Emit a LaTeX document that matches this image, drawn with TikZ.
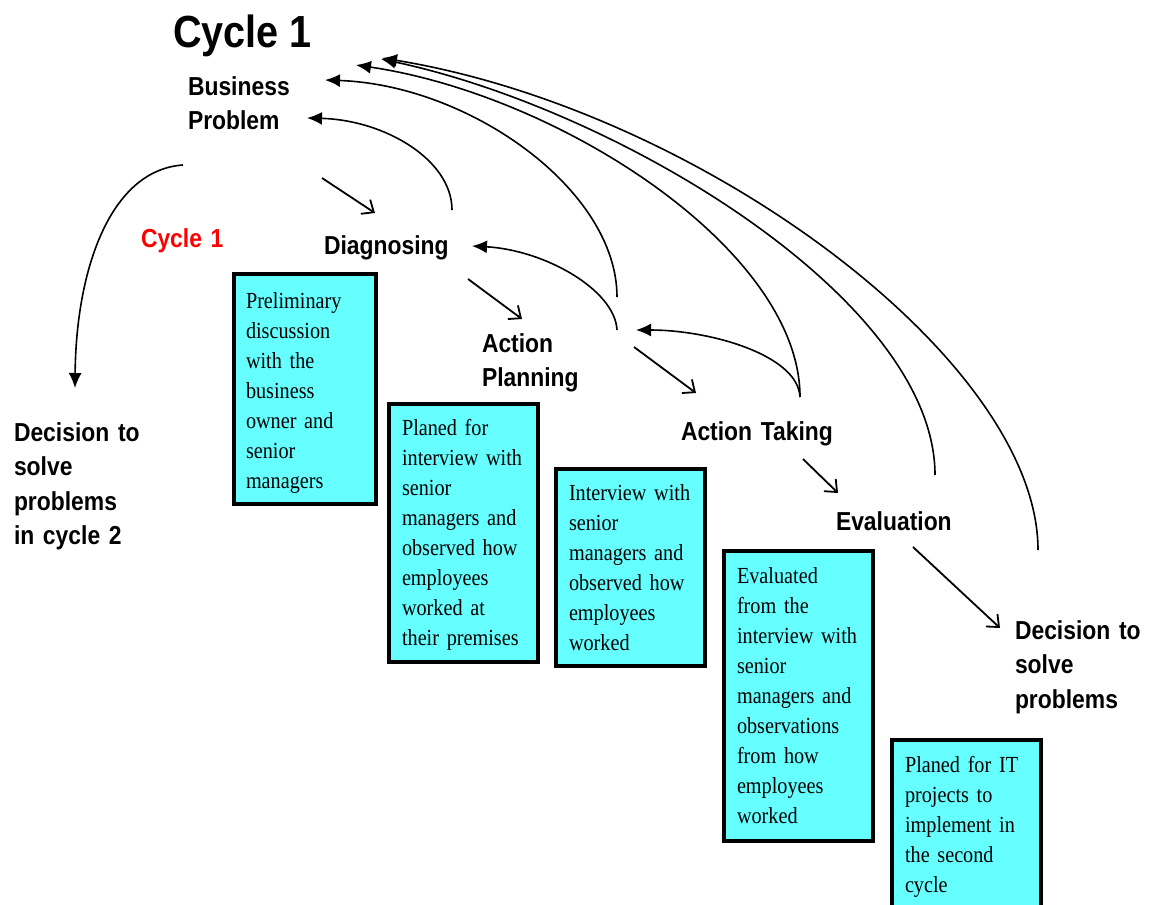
\documentclass[tikz,border=0pt]{standalone}
\usepackage{fontspec}
\setmainfont{Liberation Serif}[FakeStretch=0.88]
\newfontfamily\labelfont{Liberation Sans}[FakeStretch=0.88]
\usetikzlibrary{arrows.meta}
\definecolor{boxcyan}{RGB}{102,255,255}

\begin{document}
\begin{tikzpicture}[x=1pt,y=-1pt,
  every node/.style={inner sep=0pt, outer sep=0pt},
  title/.style={font=\labelfont\bfseries\fontsize{45}{50}\selectfont, anchor=base west},
  stage/.style={font=\labelfont\bfseries\fontsize{26}{34.5}\selectfont, anchor=base west, text width=220pt, align=left},
  panel/.style={draw=black, line width=4.5pt, fill=boxcyan, anchor=north west},
  paneltext/.style={font=\fontsize{23}{30}\selectfont, anchor=base west, text width=160pt, align=left},
  loop/.style={line width=1.6pt, -{Latex[length=15pt,width=13pt]}},
  flow/.style={line width=1.8pt, -{Straight Barb[length=10pt,width=17pt,line width=1.8pt]}}
]
\useasboundingbox (0,0) rectangle (1149,905);
\fill[white] (0,0) rectangle (1149,905);

% headings and stage labels
\node[title] (cycletitle) at (173,47) {Cycle 1};
\node[stage] (bp) at (188,95) {Business\\Problem};
\node[stage, text=red] (cyc) at (141,247) {Cycle 1};
\node[stage] (diag) at (324,254) {Diagnosing};
\node[stage] (ap) at (482,352) {Action\\Planning};
\node[stage] (at) at (681,440) {Action Taking};
\node[stage] (ev) at (836,530) {Evaluation};
\node[stage] (dec) at (1015,639) {Decision to\\solve\\problems};
\node[stage] (decb) at (14,441) {Decision to\\solve\\problems\\in cycle 2};

% description panels
\node[panel, minimum width=142pt, minimum height=230pt] (p1) at (234,274) {};
\node[paneltext] (t1) at (246,308) {Preliminary\\discussion\\with the\\business\\owner and\\senior\\managers};
\node[panel, minimum width=149pt, minimum height=258pt] (p2) at (389,404) {};
\node[paneltext] (t2) at (402,435) {Planed for\\interview with\\senior\\managers and\\observed how\\employees\\worked at\\their premises};
\node[panel, minimum width=149pt, minimum height=197pt] (p3) at (556,469) {};
\node[paneltext] (t3) at (569,500) {Interview with\\senior\\managers and\\observed how\\employees\\worked};
\node[panel, minimum width=149pt, minimum height=290pt] (p4) at (724,551) {};
\node[paneltext] (t4) at (737,583) {Evaluated\\from the\\interview with\\senior\\managers and\\observations\\from how\\employees\\worked};
\node[panel, minimum width=149pt, minimum height=200pt] (p5) at (892,740) {};
\node[paneltext] (t5) at (905,772) {Planed for IT\\projects to\\implement in\\the second\\cycle};

% connector end points
\coordinate (c0s) at (183,165);  \coordinate (c0e) at (75,388);
\coordinate (a1s) at (322,178);  \coordinate (a1e) at (375,213);
\coordinate (a2s) at (468,279);  \coordinate (a2e) at (522,319);
\coordinate (a3s) at (634,347);  \coordinate (a3e) at (696,393);
\coordinate (a4s) at (803,459);  \coordinate (a4e) at (838,493);
\coordinate (a5s) at (913,547);  \coordinate (a5e) at (1000,628);
\coordinate (r1s) at (452,210);  \coordinate (r1e) at (307,118);
\coordinate (r2s) at (617,297);  \coordinate (r2e) at (325,80);
\coordinate (r3s) at (800,397);  \coordinate (r3e) at (356,65);
\coordinate (r4s) at (935,475);  \coordinate (r4e) at (381,59);
\coordinate (r5s) at (1038,550); \coordinate (r5e) at (382,58);
\coordinate (r6s) at (617,330);  \coordinate (r6e) at (472,246);
\coordinate (r7s) at (800,397);  \coordinate (r7e) at (636,330);

% forward steps
\draw[flow] (a1s) -- (a1e);
\draw[flow] (a2s) -- (a2e);
\draw[flow] (a3s) -- (a3e);
\draw[flow] (a4s) -- (a4e);
\draw[flow] (a5s) -- (a5e);

% cycle 1 ends in the decision for cycle 2
\draw[loop] (c0s) .. controls (110,170) and (76,270) .. (c0e);

% feedback loops
\draw[loop] (r1s) .. controls (452,160) and (385,120) .. (r1e);
\draw[loop] (r2s) .. controls (617,190) and (470,85) .. (r2e);
\draw[loop] (r3s) .. controls (800,250) and (560,95) .. (r3e);
\draw[loop] (r4s) .. controls (935,300) and (620,110) .. (r4e);
\draw[loop] (r5s) .. controls (1038,360) and (700,110) .. (r5e);
\draw[loop] (r6s) .. controls (615,290) and (545,250) .. (r6e);
\draw[loop] (r7s) .. controls (798,355) and (710,330) .. (r7e);
\end{tikzpicture}
\end{document}
